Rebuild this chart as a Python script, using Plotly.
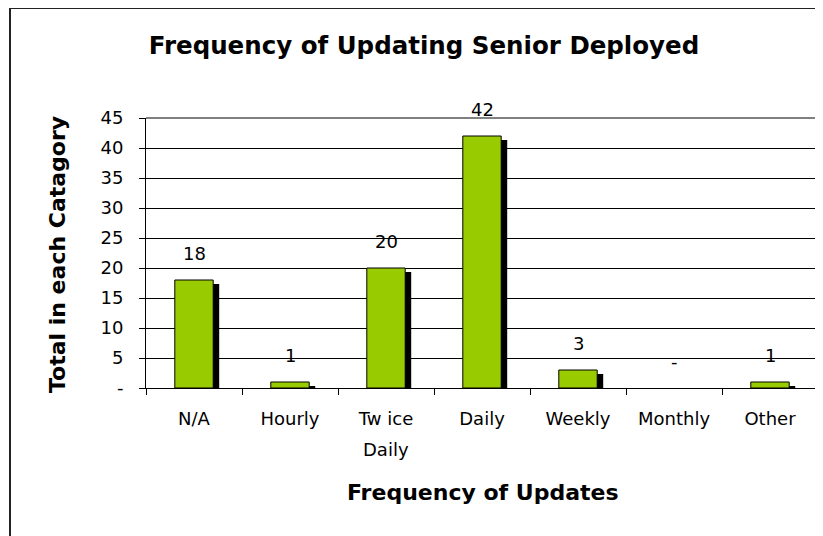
import plotly.graph_objects as go

categories = ["N/A", "Hourly", "Tw ice\nDaily", "Daily", "Weekly", "Monthly", "Other"]
values = [18, 1, 20, 42, 3, 0, 1]
y_tick_vals = [0, 5, 10, 15, 20, 25, 30, 35, 40, 45]
y_tick_text = ["-", "5", "10", "15", "20", "25", "30", "35", "40", "45"]
labels = [str(v) if v != 0 else "-" for v in values]

# page body has an 8px margin; figure coordinates = reference - 8
W, H = 815, 528
L, R, T, B = 138, 810, 110, 380
FONT = "DejaVu Sans, Liberation Sans, Arial, sans-serif"

px_per_cat = (R - L) / len(categories)
px_per_unit = (B - T) / 45.0
shadow_dx = 6 / px_per_cat
shadow_dy = 4 / px_per_unit
bar_w = 0.4

shadow_vals = [max(0, v - shadow_dy) for v in values]
outline_w = [1 if v > 0 else 0 for v in values]
first_lines = [c.split("\n")[0] for c in categories]

fig = go.Figure()
fig.add_trace(go.Bar(
    x=categories, y=shadow_vals, width=bar_w, offset=-bar_w / 2 + shadow_dx,
    marker=dict(color="black", line=dict(width=0)), hoverinfo="skip", showlegend=False,
))
fig.add_trace(go.Bar(
    x=categories, y=values, width=bar_w, offset=-bar_w / 2,
    marker=dict(color="#99CC00", line=dict(color="black", width=outline_w)),
    showlegend=False,
))
for c, v, t in zip(categories, values, labels):
    fig.add_annotation(x=c, y=v, text=t, showarrow=False, yshift=27, yanchor="middle",
                       font=dict(family=FONT, size=18, color="black"))
# second lines of wrapped category labels (Excel-like wider line spacing)
for c in categories:
    parts = c.split("\n")
    for i, p in enumerate(parts[1:], start=1):
        fig.add_annotation(x=c, xref="x", yref="paper", y=-(418 + 31 * i - 8 - B) / (B - T),
                           text=p, showarrow=False, yanchor="middle",
                           font=dict(family=FONT, size=18, color="black"))

fig.update_layout(
    width=W, height=H,
    margin=dict(l=L, r=W - R, t=T, b=H - B, pad=0),
    paper_bgcolor="white", plot_bgcolor="white",
    barmode="overlay",
    title=dict(text="<b>Frequency of Updating Senior Deployed</b>", x=416 / W, xanchor="center",
               y=1 - 37 / H, yanchor="middle",
               font=dict(family=FONT, size=24.5, color="black")),
    font=dict(family=FONT, color="black"),
)
fig.update_xaxes(
    type="category", categoryarray=categories, tickvals=categories, ticktext=first_lines,
    showline=True, linecolor="black", linewidth=1,
    ticks="outside", ticklen=6, tickcolor="black", tickson="boundaries",
    tickfont=dict(family=FONT, size=18, color="black"), ticklabelstandoff=14,
    showgrid=False,
)
fig.update_yaxes(
    range=[0, 45], tickvals=y_tick_vals, ticktext=y_tick_text,
    showline=True, linecolor="black", linewidth=1,
    ticks="outside", ticklen=6, tickcolor="black",
    showgrid=True, gridcolor="black", gridwidth=1, zeroline=False,
    tickfont=dict(family=FONT, size=18, color="black"), ticklabelstandoff=12,
)
# axis titles
fig.add_annotation(text="<b>Frequency of Updates</b>", xref="paper", yref="paper",
                   x=(475 - L) / (R - L), y=-(484 - B) / (B - T), showarrow=False,
                   xanchor="center", yanchor="middle",
                   font=dict(family=FONT, size=22, color="black"))
fig.add_annotation(text="<b>Total in each Catagory</b>", xref="paper", yref="paper",
                   x=(49 - L) / (R - L), y=1 - (247 - T) / (B - T), showarrow=False, textangle=-90,
                   xanchor="center", yanchor="middle",
                   font=dict(family=FONT, size=22, color="black"))
# plot area border (gray) on right and top
fig.add_shape(type="line", xref="paper", yref="paper", x0=0, x1=1, y0=1, y1=1,
              line=dict(color="#808080", width=2), layer="above")
fig.add_shape(type="line", xref="paper", yref="paper", x0=1, x1=1, y0=0, y1=1,
              line=dict(color="#808080", width=2), layer="above")
# outer chart border
ox = (2 - L) / (R - L)
oy = 1 + (T - 0) / (B - T)
fig.add_shape(type="line", xref="paper", yref="paper", x0=ox, x1=(W + 5 - L) / (R - L), y0=oy, y1=oy,
              line=dict(color="#222222", width=2))
fig.add_shape(type="line", xref="paper", yref="paper", x0=ox, x1=ox, y0=oy, y1=-(H + 5 - B) / (B - T),
              line=dict(color="#222222", width=2))

fig.write_html("out.html")
